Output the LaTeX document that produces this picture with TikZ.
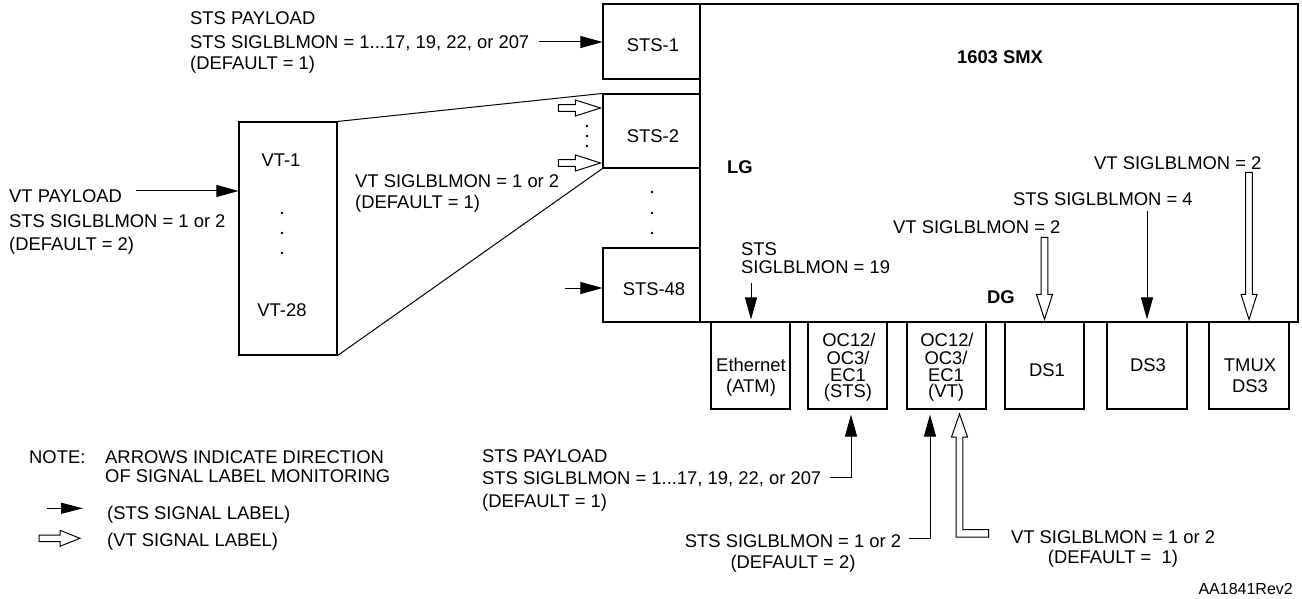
\documentclass[tikz,border=0pt]{standalone}
\usepackage{fontspec}
\setmainfont{Liberation Sans}
\usetikzlibrary{arrows.meta}
\tikzset{
  box/.style={draw, line width=1.1pt, inner sep=0pt},
  lbl/.style={inner sep=0pt, font=\fontsize{18.4}{22}\selectfont, text height=13.2pt, text depth=0pt},
  lbll/.style={lbl, anchor=west},
  lblb/.style={lbl, anchor=west, font=\fontsize{18.4}{22}\selectfont\bfseries},
  stsarr/.style={line width=1pt, -{Triangle[length=22pt,width=12pt]}},
  conn/.style={line width=1pt},
  dotmark/.style={fill, circle, inner sep=0pt, minimum size=2.8pt},
  vtshape/.style={line width=1pt, fill=white},
  pics/openarr/.style 2 args={code={
    \draw[vtshape] (0,0) -- (-#2,8) -- (-#2,3.3) -- (-#1,3.3) -- (-#1,-3.3)
      -- (-#2,-3.3) -- (-#2,-8) -- cycle;}}
}
\begin{document}
\begin{tikzpicture}[x=1pt,y=-1pt]
\useasboundingbox (0,0) rectangle (1302,599);

% ---------- boxes ----------
\node[box, minimum width=598pt, minimum height=318pt] (main) at (999,163) {};
\node[box, minimum width=97pt, minimum height=75pt] (sts1) at (651.5,41.5) {};
\node[box, minimum width=97pt, minimum height=74pt] (sts2) at (651.5,131) {};
\node[box, minimum width=97pt, minimum height=74pt] (sts48) at (651.5,285) {};
\node[box, minimum width=98pt, minimum height=233pt] (vt) at (288,238.5) {};
\node[box, minimum width=79pt, minimum height=87pt] (eth) at (750.5,365.5) {};
\node[box, minimum width=79pt, minimum height=87pt] (oc1) at (847.5,365.5) {};
\node[box, minimum width=79pt, minimum height=87pt] (oc2) at (946.5,365.5) {};
\node[box, minimum width=79pt, minimum height=87pt] (ds1) at (1044.5,365.5) {};
\node[box, minimum width=80pt, minimum height=87pt] (ds3) at (1147,365.5) {};
\node[box, minimum width=80pt, minimum height=87pt] (tmux) at (1249,365.5) {};

% ---------- box texts ----------
\node[lbl] (sts1t) at (653,45) {STS-1};
\node[lbl] (sts2t) at (653,136) {STS-2};
\node[lbl] (sts48t) at (654,289) {STS-48};
\node[lbl] (vt1t) at (281,160) {VT-1};
\node[lbl] (vt28t) at (282,310) {VT-28};
\node[lbl] (etht1) at (751,364.5) {Ethernet};
\node[lbl] (etht2) at (751,386) {(ATM)};
\node[lbl] (oc1t1) at (849,340) {OC12/};
\node[lbl] (oc1t2) at (848,357.5) {OC3/};
\node[lbl] (oc1t3) at (848,374.5) {EC1};
\node[lbl] (oc1t4) at (848,391) {(STS)};
\node[lbl] (oc2t1) at (947,340) {OC12/};
\node[lbl] (oc2t2) at (946,357.5) {OC3/};
\node[lbl] (oc2t3) at (946,374.5) {EC1};
\node[lbl] (oc2t4) at (946,391) {(VT)};
\node[lbl] (ds1t) at (1047,369.5) {DS1};
\node[lbl] (ds3t) at (1148,364.5) {DS3};
\node[lbl] (tmuxt1) at (1250,364.5) {TMUX};
\node[lbl] (tmuxt2) at (1250,385.5) {DS3};

% ---------- dots ----------
\node[dotmark] (d1) at (282,213) {};
\node[dotmark] (d2) at (282,233) {};
\node[dotmark] (d3) at (282,253) {};
\node[dotmark] (d4) at (652,192) {};
\node[dotmark] (d5) at (652,213) {};
\node[dotmark] (d6) at (652,233) {};
\node[dotmark] (d7) at (587,126) {};
\node[dotmark] (d8) at (587,136) {};
\node[dotmark] (d9) at (587,146) {};

% ---------- fan lines ----------
\draw[conn] (vt.north east) -- (sts2.north west);
\draw[conn] (vt.south east) -- (sts2.south west);

% ---------- main box labels ----------
\node[lbl, font=\fontsize{18.4}{22}\selectfont\bfseries] (smx) at (1000,57) {1603 SMX};
\node[lblb] (lg) at (727,167) {LG};
\node[lblb] (dg) at (987,297) {DG};
\node[lbll] (e1) at (741,249) {STS};
\node[lbll] (e2) at (741,267) {SIGLBLMON = 19};
\node[lbll] (v1) at (893,227) {VT SIGLBLMON = 2};
\node[lbll] (s4) at (1013,199) {STS SIGLBLMON = 4};
\node[lbll] (v2) at (1094,162.5) {VT SIGLBLMON = 2};

% ---------- left labels ----------
\node[lbll] (stspl1) at (190,18) {STS PAYLOAD};
\node[lbll] (stspl2) at (190,42) {STS SIGLBLMON = 1...17, 19, 22, or 207};
\node[lbll] (stspl3) at (190,63) {(DEFAULT = 1)};
\node[lbll] (vtpl1) at (9,195.5) {VT PAYLOAD};
\node[lbll] (vtpl2) at (9,220.5) {STS SIGLBLMON = 1 or 2};
\node[lbll] (vtpl3) at (9,244) {(DEFAULT = 2)};
\node[lbll] (vtsig1) at (355,180.5) {VT SIGLBLMON = 1 or 2};
\node[lbll] (vtsig2) at (355,201.5) {(DEFAULT = 1)};

% ---------- bottom labels ----------
\node[lbll] (bpl1) at (482,456) {STS PAYLOAD};
\node[lbll] (bpl2) at (482,478) {STS SIGLBLMON = 1...17, 19, 22, or 207};
\node[lbll] (bpl3) at (482,501) {(DEFAULT = 1)};
\node[lbl] (bs1) at (793,541) {STS SIGLBLMON = 1 or 2};
\node[lbl] (bs2) at (793,561.5) {(DEFAULT = 2)};
\node[lbl] (bv1) at (1113,536.5) {VT SIGLBLMON = 1 or 2};
\node[lbl] (bv2) at (1113,557) {(DEFAULT =~ 1)};
\node[lbl, anchor=east, font=\fontsize{16}{20}\selectfont, text height=11.5pt] (ref) at (1293,589) {AA1841Rev2};

% ---------- legend ----------
\node[lbll] (note) at (29,457) {NOTE:};
\node[lbll] (note1) at (105,457) {ARROWS INDICATE DIRECTION};
\node[lbll] (note2) at (105,475.5) {OF SIGNAL LABEL MONITORING};
\node[lbll] (legs) at (107,512.5) {(STS SIGNAL LABEL)};
\node[lbll] (legv) at (107,540) {(VT SIGNAL LABEL)};
\coordinate (legsa) at (47,508.3);
\coordinate (legsb) at (83,508.3);
\draw[line width=1pt, -{Triangle[length=22pt,width=11pt]}] (legsa) -- (legsb);
\path (80,538.3) pic {openarr={41}{20}};

% ---------- STS (filled) arrows ----------
\coordinate (sts1in) at (539,42);
\draw[stsarr] (sts1in) -- (sts1in -| sts1.west);
\coordinate (s48in) at (565,288);
\draw[stsarr] (s48in) -- (s48in -| sts48.west);
\coordinate (vtin) at (136,191);
\draw[stsarr] (vtin) -- (vtin -| vt.west);
\coordinate (ethsrc) at (751,283);
\draw[stsarr, shorten >=2pt] (ethsrc) -- (ethsrc |- eth.north);
\coordinate (ds3src) at (1147,211);
\draw[stsarr, shorten >=2pt] (ds3src) -- (ds3src |- ds3.north);
\coordinate (p1a) at (830,477);
\coordinate (p1b) at (851,477);
\draw[stsarr, shorten >=5pt] (p1a) -- (p1b) -- (p1b |- oc1.south);
\coordinate (p2a) at (909,538);
\coordinate (p2b) at (930,538);
\draw[stsarr, shorten >=5pt] (p2a) -- (p2b) -- (p2b |- oc2.south);

% ---------- VT (open) arrows ----------
\path ([xshift=-2pt]sts2.west |- 0,108) pic {openarr={42}{25}};
\path ([xshift=-2pt]sts2.west |- 0,163) pic {openarr={42}{25}};
\path ([yshift=2pt]ds1.north) pic[rotate=-90] {openarr={82}{25}};
\path ([yshift=2pt]tmux.north) pic[rotate=-90] {openarr={147}{25}};
\draw[vtshape] (959.5,414) -- (967.5,437) -- (962.8,437) -- (962.8,529.5)
  -- (988.5,529.5) -- (988.5,537) -- (956.2,537) -- (956.2,437) -- (951.5,437) -- cycle;
\end{tikzpicture}
\end{document}
